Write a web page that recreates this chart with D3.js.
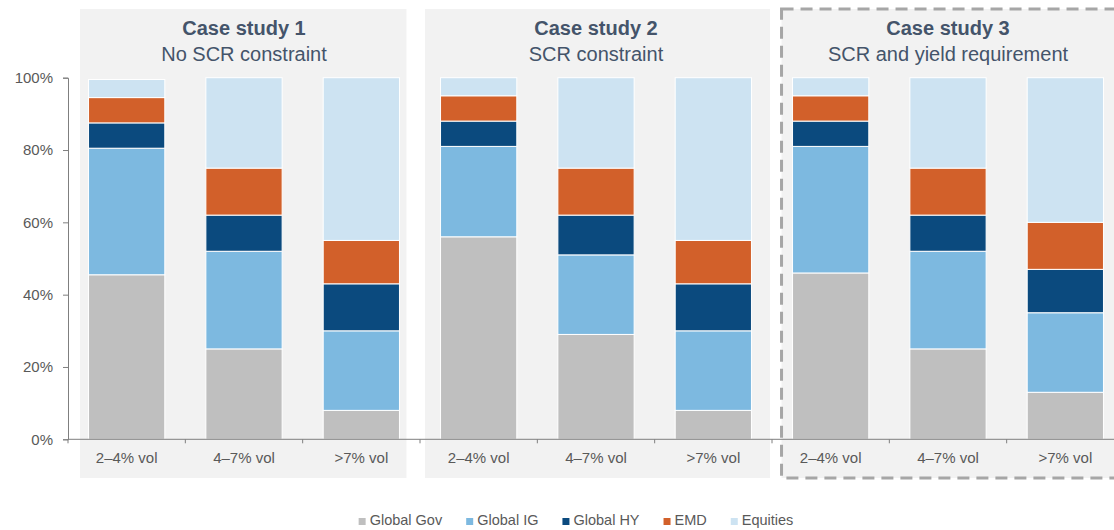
<!DOCTYPE html>
<html>
<head>
<meta charset="utf-8">
<script src="https://cdn.jsdelivr.net/npm/d3@7"></script>
<style>
  html, body { margin: 0; padding: 0; background: #ffffff; }
  svg { display: block; font-family: "Liberation Sans", Arial, sans-serif; }
</style>
</head>
<body>
<svg id="chart" width="1114" height="530"></svg>
<script>
// ---------------- DATA ----------------
const panelTitles = ["Case study 1", "Case study 2", "Case study 3"];
const panelSubtitles = ["No SCR constraint", "SCR constraint", "SCR and yield requirement"];
const volLabels = ["2–4% vol", "4–7% vol", ">7% vol"];
const seriesNames = ["Global Gov", "Global IG", "Global HY", "EMD", "Equities"];
const seriesColors = ["#bfbfbf", "#7db9e0", "#0b4a7e", "#d2602a", "#cde3f2"];
// values per bar (panel-major), in %
const globalGov = [45.5, 25, 8, 56, 29, 8, 46, 25, 13];
const globalIG  = [35, 27, 22, 25, 22, 22, 35, 27, 22];
const globalHY  = [7, 10, 13, 7, 11, 13, 7, 10, 12];
const emd       = [7, 13, 12, 7, 13, 12, 7, 13, 13];
const equities  = [5, 25, 45, 5, 25, 45, 5, 25, 40];
const yTicks = [0, 20, 40, 60, 80, 100];

// ---------------- LAYOUT ----------------
const svg = d3.select("#chart");
const axisX = 68, y0 = 439.3, y100 = 77.7;
const panelTop = 9, panelBottom = 478;
const panelPadL = [8.5, 15.5, 11];
const panelPadR = [7, 18.5, 60];

const rows = [];
panelTitles.forEach((p, pi) => {
  volLabels.forEach((v, vi) => {
    const i = pi * 3 + vi;
    rows.push({
      key: pi + "|" + v, panel: pi, label: v,
      "Global Gov": globalGov[i], "Global IG": globalIG[i], "Global HY": globalHY[i],
      "EMD": emd[i], "Equities": equities[i]
    });
  });
});

const x = d3.scaleBand().domain(rows.map(d => d.key))
  .range([axisX, axisX + 1056]).paddingInner(0.35).paddingOuter(0.175);
const y = d3.scaleLinear().domain([0, 100]).range([y0, y100]);
const color = d3.scaleOrdinal().domain(seriesNames).range(seriesColors);

// panels
panelTitles.forEach((t, pi) => {
  const keys = rows.filter(r => r.panel === pi).map(r => r.key);
  const left = x(keys[0]) - panelPadL[pi];
  const right = x(keys[2]) + x.bandwidth() + panelPadR[pi];
  const g = svg.append("g");
  g.append("rect").attr("x", left).attr("y", panelTop)
    .attr("width", right - left).attr("height", panelBottom - panelTop)
    .attr("fill", "#f2f2f2")
    .attr("stroke", pi === 2 ? "#a6a6a6" : "none")
    .attr("stroke-width", pi === 2 ? 3 : 0)
    .attr("stroke-dasharray", pi === 2 ? "12,7" : null);
  const cx = x(keys[1]) + x.bandwidth() / 2;
  g.append("text").attr("x", cx).attr("y", 35).attr("text-anchor", "middle")
    .attr("font-size", 20).attr("font-weight", "bold").attr("fill", "#44546a").text(t);
  g.append("text").attr("x", cx).attr("y", 61).attr("text-anchor", "middle")
    .attr("font-size", 20).attr("fill", "#44546a").text(panelSubtitles[pi]);
});

// stacked bars
const stack = d3.stack().keys(seriesNames);
const layers = stack(rows);
svg.append("g").selectAll("g").data(layers).join("g")
  .attr("fill", d => color(d.key))
  .selectAll("rect").data(d => d).join("rect")
  .attr("x", d => x(d.data.key))
  .attr("width", x.bandwidth())
  .attr("y", d => y(d[1]))
  .attr("height", d => y(d[0]) - y(d[1]))
  .attr("stroke", "#ffffff").attr("stroke-width", 1);

// y axis
const yAxis = svg.append("g").attr("transform", `translate(${axisX},0)`)
  .call(d3.axisLeft(y).tickValues(yTicks).tickFormat(d => d + "%").tickSize(5).tickPadding(10));
yAxis.select(".domain").attr("stroke", "#7f7f7f");
yAxis.selectAll(".tick line").attr("stroke", "#7f7f7f");
yAxis.selectAll("text").attr("font-size", 15).attr("fill", "#595959")
  .attr("font-family", "Liberation Sans, Arial, sans-serif");

// x axis
const xAxis = svg.append("g").attr("transform", `translate(0,${y0})`)
  .call(d3.axisBottom(x).tickSize(0).tickPadding(13).tickFormat(k => k.split("|")[1]));
xAxis.select(".domain").attr("stroke", "#7f7f7f").attr("d", `M${axisX},0H1124`);
xAxis.selectAll("text").attr("font-size", 15).attr("fill", "#595959")
  .attr("font-family", "Liberation Sans, Arial, sans-serif");
// boundary ticks between categories
const bounds = rows.map(r => x(r.key) - x.step() * x.paddingInner() / 2);
xAxis.append("g").selectAll("line").data(bounds).join("line")
  .attr("x1", d => d).attr("x2", d => d).attr("y1", 0).attr("y2", 4)
  .attr("stroke", "#7f7f7f");

// legend
const legend = svg.append("g");
let lx = 0;
seriesNames.forEach(n => {
  const g = legend.append("g").attr("transform", `translate(${lx},0)`);
  g.append("rect").attr("x", 0).attr("y", -7).attr("width", 7).attr("height", 7)
    .attr("fill", color(n));
  const t = g.append("text").attr("x", 11).attr("y", 0).attr("font-size", 14.5)
    .attr("fill", "#595959").text(n);
  const w = t.node().getComputedTextLength();
  lx += 11 + w + 24;
});
const totalW = lx - 24;
legend.attr("transform", `translate(${576 - totalW / 2},525)`);
</script>
</body>
</html>
